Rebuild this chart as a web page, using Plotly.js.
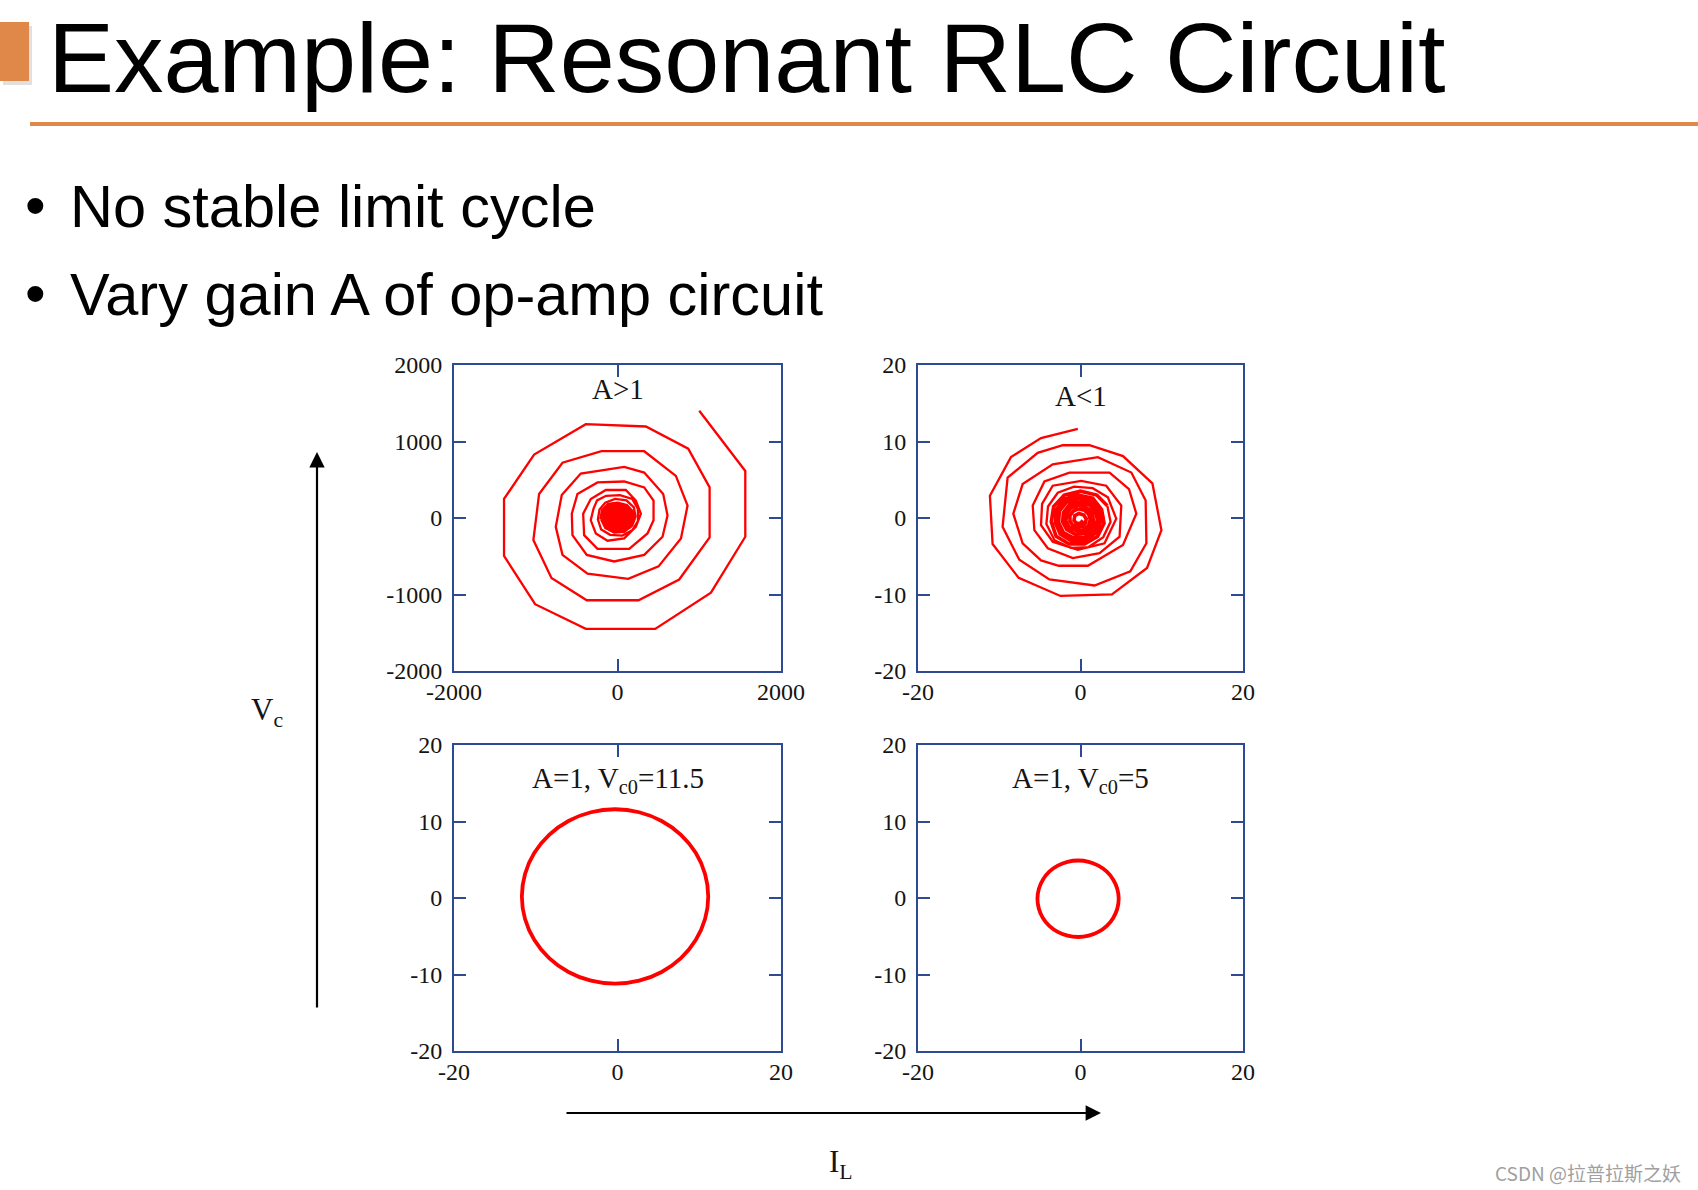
<!DOCTYPE html>
<html>
<head>
<meta charset="utf-8">
<script src="https://cdn.plot.ly/plotly-3.0.1.min.js"></script>
<style>
html,body{margin:0;padding:0;background:#fff;}
#chart{width:1698px;height:1190px;}
</style>
</head>
<body>
<div id="chart"></div>
<script>
// ---------- DATA ----------
// Panel 1: A>1 (outer polygonal spiral)
const spiralAOuterX = [1000,1563,1563,1143,461,-388,-1008,-1388,-1388,-1020,-388,347,865,1127,1127,755,257,-376,-808,-1029,-959,-673,-196,327,714,857,776,502,131,-367,-673,-755,-682,-449,82,327,559,612,551,327,-41,-376,-551,-559,-490,-245,82,327,441,441,367,143,-245,-408,-420,-327,-143,102,224,286,224,82,-122,-265,-327,-294,-250,-140,30,180,250,250,180,60,-90,-200,-240,-220,-150,-30,110,200,220,180,80,-40,-150,-200];
const spiralAOuterY = [1402,615,-245,-976,-1449,-1449,-1127,-495,249,830,1226,1196,907,400,-254,-804,-1075,-1075,-783,-288,314,723,873,873,551,163,-267,-632,-796,-727,-482,-116,301,581,667,594,314,34,-245,-482,-568,-482,-224,56,314,465,477,400,228,-30,-202,-404,-404,-224,56,249,366,366,228,56,-116,-267,-297,-202,-30,120,230,290,300,250,120,-40,-160,-230,-220,-150,-20,110,200,250,230,140,20,-100,-180,-190,-130,-20];
// Panel 1: A>1 dense core
const spiralACoreX = [-200,-180,-110,0,110,180,195,150,60,-50,-140,-175,-150,-90,0,90,150,160,120,45,-45,-120,-145,-120,-70,0,75,120,128,95,35,-38,-95,-115,-90,-50,0,55,88,95,70,25,-30,-70,-85,-62,-30,5,38,58,60,42,10,-25,-48,-52,-35,-12,12,30,34,22,0,-20,-25,-10,5,8];
const spiralACoreY = [-20,100,175,190,160,80,-20,-110,-160,-165,-110,-10,80,145,160,135,65,-20,-95,-135,-135,-90,-5,65,115,128,108,50,-18,-78,-108,-108,-70,-5,50,85,95,80,35,-15,-58,-80,-80,-50,0,35,58,62,50,20,-15,-42,-52,-48,-25,5,25,35,33,18,-5,-25,-30,-22,0,12,10,0];

// Panel 2: A<1 (decaying spiral)
const spiralBOuterX = [-0.33,-4.86,-8.56,-11.15,-10.82,-7.61,-2.47,3.87,8.19,9.96,8.85,5.23,1.11,-2.18,-5.27,-8.97,-9.59,-7.53,-3.83,1.73,6.13,8.11,8.02,6.26,2.14,-3.42,-7.12,-8.27,-7.12,-4.86,-2.67,0.91,5.23,6.87,5.97,3.58,-1.36,-4.44,-5.88,-5.68,-4.03,-0.95,2.35,4.81,5.02,3.17,0.08,-3.42,-4.73,-4.86,-3.42,-0.33,2.96,4.40,3.37,1.5,-0.8,-2.8,-4.0,-4.2,-3.2,-1.2,1.0,2.8,3.7,3.3];
const spiralBOuterY = [11.66,10.45,7.96,2.92,-3.40,-7.83,-10.19,-9.98,-6.54,-1.59,4.52,8.09,9.51,9.51,8.52,5.29,-1.16,-5.46,-8.04,-8.82,-6.97,-3.31,2.28,5.94,7.96,7.01,4.43,0.56,-3.31,-5.55,-6.24,-6.24,-3.53,0.56,3.78,5.94,5.94,4.77,1.63,-1.59,-3.96,-5.25,-4.60,-2.45,1.63,4.22,4.86,4.22,1.85,-0.95,-3.10,-4.17,-3.31,-0.09,2.71,3.9,4.1,3.3,1.5,-0.8,-2.9,-3.9,-3.8,-2.5,-0.5,1.6];
const spiralBCoreX = [3.3,2.0,0.0,-2.0,-3.3,-3.6,-3.0,-1.4,0.5,2.1,2.9,2.6,1.5,-0.3,-1.9,-3.0,-3.1,-2.5,-1.1,0.6,1.9,2.5,2.2,1.2,-0.3,-1.7,-2.6,-2.7,-2.1,-0.9,0.5,1.6,2.1,1.8,1.0,-0.3,-1.4,-2.1,-2.2,-1.7,-0.7,0.4,1.3,1.6,1.4,0.7,-0.3,-1.2,-1.7,-1.8,-1.4,-0.6,0.3,1.0,1.2,1.0,0.5,-0.3,-0.9,-1.3,-1.3,-1.0,-0.4,0.2,0.6,0.7,0.4,-0.2,-0.7,-0.8,-0.5,0.0,0.3];
const spiralBCoreY = [1.6,3.0,3.5,3.0,1.5,-0.5,-2.4,-3.4,-3.4,-2.4,-0.7,1.1,2.6,3.0,2.5,1.1,-0.6,-2.1,-3.0,-2.9,-1.9,-0.4,1.1,2.2,2.6,2.1,0.9,-0.6,-1.9,-2.6,-2.5,-1.6,-0.3,0.9,1.8,2.1,1.7,0.7,-0.5,-1.5,-2.1,-2.0,-1.3,-0.3,0.7,1.4,1.7,1.3,0.5,-0.4,-1.2,-1.6,-1.6,-1.0,-0.2,0.5,1.0,1.2,0.9,0.3,-0.4,-0.9,-1.2,-1.1,-0.7,-0.1,0.4,0.6,0.3,-0.3,-0.7,-0.7,-0.3];

// Panel 3: A=1, Vc0=11.5 (closed orbit)
const orbitLargeX = [11.1,10.71,9.57,7.76,5.4,2.65,-0.3,-3.25,-6.0,-8.36,-10.17,-11.31,-11.7,-11.31,-10.17,-8.36,-6.0,-3.25,-0.3,2.65,5.4,7.76,9.57,10.71,11.1];
const orbitLargeY = [0.2,3.15,5.9,8.26,10.07,11.21,11.6,11.21,10.07,8.26,5.9,3.15,0.2,-2.75,-5.5,-7.86,-9.67,-10.81,-11.2,-10.81,-9.67,-7.86,-5.5,-2.75,0.2];

// Panel 4: A=1, Vc0=5 (closed orbit)
const orbitSmallX = [4.7,4.53,4.03,3.24,2.2,1.0,-0.3,-1.6,-2.8,-3.84,-4.63,-5.13,-5.3,-5.13,-4.63,-3.84,-2.8,-1.6,-0.3,1.0,2.2,3.24,4.03,4.53,4.7];
const orbitSmallY = [-0.1,1.19,2.4,3.44,4.23,4.73,4.9,4.73,4.23,3.44,2.4,1.19,-0.1,-1.39,-2.6,-3.64,-4.43,-4.93,-5.1,-4.93,-4.43,-3.64,-2.6,-1.39,-0.1];

// Tick values / labels
const xTicksBig = [-2000, 0, 2000];
const xTickLabelsBig = ['-2000', '0', '2000'];
const yTicksBig = [-2000, -1000, 0, 1000, 2000];
const yTickLabelsBig = ['-2000', '-1000', '0', '1000', '2000'];
const xTicksSmall = [-20, 0, 20];
const xTickLabelsSmall = ['-20', '0', '20'];
const yTicksSmall = [-20, -10, 0, 10, 20];
const yTickLabelsSmall = ['-20', '-10', '0', '10', '20'];

const panelTitles = ['A&gt;1', 'A&lt;1', 'A=1, V<sub>c0</sub>=11.5', 'A=1, V<sub>c0</sub>=5'];

// ---------- STYLE ----------
const RED = '#FF0000';
const AXC = '#2E4A93';
const tickFont = {family: 'Liberation Serif, Times New Roman, serif', size: 24, color: '#141414'};

function axis(domain, range, vals, labels, anchor, isX) {
  return {
    domain: domain, range: range, anchor: anchor,
    tickmode: 'array', tickvals: vals, ticktext: labels,
    showline: true, linecolor: AXC, linewidth: 2, mirror: 'ticks',
    ticks: 'inside', ticklen: 12, tickwidth: 2, tickcolor: AXC,
    showgrid: false, zeroline: false, fixedrange: true,
    tickfont: tickFont, ticklabelstandoff: isX ? -2 : 5
  };
}

const col1 = [454/1698, 781/1698], col2 = [918/1698, 1243/1698];
const row1 = [1 - 671/1190, 1 - 365/1190], row2 = [1 - 1051/1190, 1 - 745/1190];

const traces = [
  {x: spiralAOuterX, y: spiralAOuterY, xaxis: 'x', yaxis: 'y',
   mode: 'lines', line: {color: RED, width: 2.3}, hoverinfo: 'skip'},
  {x: spiralACoreX, y: spiralACoreY, xaxis: 'x', yaxis: 'y',
   mode: 'lines', line: {color: RED, width: 4}, hoverinfo: 'skip'},
  {x: spiralBOuterX, y: spiralBOuterY, xaxis: 'x2', yaxis: 'y2',
   mode: 'lines', line: {color: RED, width: 2.3}, hoverinfo: 'skip'},
  {x: spiralBCoreX, y: spiralBCoreY, xaxis: 'x2', yaxis: 'y2',
   mode: 'lines', line: {color: RED, width: 3.6}, hoverinfo: 'skip'},
  {x: orbitLargeX, y: orbitLargeY, xaxis: 'x3', yaxis: 'y3',
   mode: 'lines', line: {color: RED, width: 3.8, shape: 'spline', smoothing: 1}, hoverinfo: 'skip'},
  {x: orbitSmallX, y: orbitSmallY, xaxis: 'x4', yaxis: 'y4',
   mode: 'lines', line: {color: RED, width: 3.8, shape: 'spline', smoothing: 1}, hoverinfo: 'skip'}
];

const serif = 'Liberation Serif, Times New Roman, serif';
const sans = 'Liberation Sans, Arial, sans-serif';
const ttlFont = {family: serif, size: 29, color: '#141414'};

const annotations = [
  {text: panelTitles[0], xref: 'x', yref: 'y', x: 0, y: 1680, xanchor: 'center', yanchor: 'middle', showarrow: false, font: ttlFont},
  {text: panelTitles[1], xref: 'x2', yref: 'y2', x: 0, y: 16.0, xanchor: 'center', yanchor: 'middle', showarrow: false, font: ttlFont},
  {text: panelTitles[2], xref: 'x3', yref: 'y3', x: 0, y: 15.4, xanchor: 'center', yanchor: 'middle', showarrow: false, font: ttlFont},
  {text: panelTitles[3], xref: 'x4', yref: 'y4', x: 0, y: 15.4, xanchor: 'center', yanchor: 'middle', showarrow: false, font: ttlFont},
  // slide title & bullets
  {text: 'Example: Resonant RLC Circuit', xref: 'paper', yref: 'paper', x: 46/1698, y: 1 - 57/1190,
   xanchor: 'left', yanchor: 'middle', showarrow: false, font: {family: sans, size: 99, color: '#000'}},
  {text: '•', xref: 'paper', yref: 'paper', x: 35/1698, y: 1 - 206/1190, xanchor: 'center', yanchor: 'middle',
   showarrow: false, font: {family: sans, size: 59, color: '#000'}},
  {text: 'No stable limit cycle', xref: 'paper', yref: 'paper', x: 68/1698, y: 1 - 206/1190, xanchor: 'left', yanchor: 'middle',
   showarrow: false, font: {family: sans, size: 59.5, color: '#000'}},
  {text: '•', xref: 'paper', yref: 'paper', x: 35/1698, y: 1 - 294/1190, xanchor: 'center', yanchor: 'middle',
   showarrow: false, font: {family: sans, size: 59, color: '#000'}},
  {text: 'Vary gain A of op-amp circuit', xref: 'paper', yref: 'paper', x: 68/1698, y: 1 - 294/1190, xanchor: 'left', yanchor: 'middle',
   showarrow: false, font: {family: sans, size: 59.5, color: '#000'}},
  // axis labels and arrows
  {text: 'V<sub>c</sub>', xref: 'paper', yref: 'paper', x: 267/1698, y: 1 - 712/1190, xanchor: 'center', yanchor: 'middle',
   showarrow: false, font: {family: serif, size: 31, color: '#141414'}},
  {text: 'I<sub>L</sub>', xref: 'paper', yref: 'paper', x: 841/1698, y: 1 - 1164/1190, xanchor: 'center', yanchor: 'middle',
   showarrow: false, font: {family: serif, size: 31, color: '#141414'}},
  {text: '', xref: 'paper', yref: 'paper', x: 317/1698, y: 1 - 452/1190, ax: 0, ay: 557, showarrow: true,
   arrowhead: 2, arrowsize: 1.4, arrowwidth: 2.2, arrowcolor: '#000', standoff: 0, startstandoff: 0},
  {text: '', xref: 'paper', yref: 'paper', x: 1101/1698, y: 1 - 1113/1190, ax: -536, ay: 0, showarrow: true,
   arrowhead: 2, arrowsize: 1.4, arrowwidth: 2.2, arrowcolor: '#000', standoff: 0, startstandoff: 0},
  // watermark
  {text: 'CSDN @拉普拉斯之妖', xref: 'paper', yref: 'paper', x: 1683/1698, y: 1 - 1172/1190, xanchor: 'right', yanchor: 'middle',
   showarrow: false, font: {family: 'Noto Sans CJK SC, sans-serif', size: 19, color: '#a0a0a0'}}
];

const shapes = [
  {type: 'rect', xref: 'paper', yref: 'paper', x0: 3/1698, x1: 32/1698, y0: 1 - 85/1190, y1: 1 - 26/1190,
   fillcolor: 'rgba(0,0,0,0.12)', line: {width: 0}, layer: 'below'},
  {type: 'rect', xref: 'paper', yref: 'paper', x0: 0, x1: 29/1698, y0: 1 - 81/1190, y1: 1 - 22/1190,
   fillcolor: '#E0874A', line: {width: 0}, layer: 'below'},
  {type: 'rect', xref: 'paper', yref: 'paper', x0: 30/1698, x1: 1, y0: 1 - 126/1190, y1: 1 - 122/1190,
   fillcolor: '#E0874A', line: {width: 0}, layer: 'below'}
];

const layout = {
  width: 1698, height: 1190,
  margin: {l: 0, r: 0, t: 0, b: 0},
  paper_bgcolor: '#ffffff', plot_bgcolor: '#ffffff',
  showlegend: false,
  xaxis:  axis(col1, [-2000, 2000], xTicksBig, xTickLabelsBig, 'y', true),
  yaxis:  axis(row1, [-2000, 2000], yTicksBig, yTickLabelsBig, 'x', false),
  xaxis2: axis(col2, [-20, 20], xTicksSmall, xTickLabelsSmall, 'y2', true),
  yaxis2: axis(row1, [-20, 20], yTicksSmall, yTickLabelsSmall, 'x2', false),
  xaxis3: axis(col1, [-20, 20], xTicksSmall, xTickLabelsSmall, 'y3', true),
  yaxis3: axis(row2, [-20, 20], yTicksSmall, yTickLabelsSmall, 'x3', false),
  xaxis4: axis(col2, [-20, 20], xTicksSmall, xTickLabelsSmall, 'y4', true),
  yaxis4: axis(row2, [-20, 20], yTicksSmall, yTickLabelsSmall, 'x4', false),
  annotations: annotations,
  shapes: shapes
};

Plotly.newPlot('chart', traces, layout, {displayModeBar: false, staticPlot: true});
</script>
</body>
</html>
